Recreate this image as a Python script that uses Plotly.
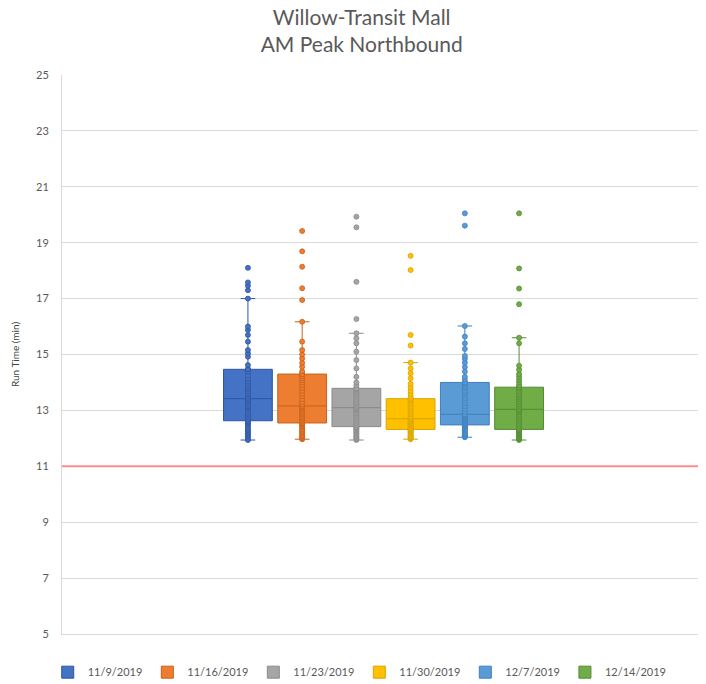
import plotly.graph_objects as go

# run times (min) per sample day
dates = ["11/9/2019", "11/16/2019", "11/23/2019", "11/30/2019", "12/7/2019", "12/14/2019"]

run_1109 = [11.94, 11.98, 12.05, 12.1, 12.15, 12.2, 12.25, 12.3, 12.35, 12.42, 12.48, 12.53, 12.58,
            12.63, 12.63, 12.63,
            12.7, 12.78, 12.85, 12.9, 12.98, 13.05, 13.1, 13.15, 13.2, 13.27, 13.33, 13.38,
            13.42,
            13.48, 13.55, 13.6, 13.68, 13.75, 13.82, 13.9, 13.98, 14.05, 14.15, 14.25, 14.38,
            14.47, 14.47, 14.47,
            14.62, 14.92, 15.04, 15.16, 15.46, 15.7, 15.88, 16.0, 17.0, 17.3, 17.46, 17.58, 18.1]

run_1116 = [11.97, 12.0, 12.03, 12.08, 12.12, 12.18, 12.22, 12.27, 12.32, 12.38, 12.42, 12.47, 12.51,
            12.55, 12.55, 12.55,
            12.6, 12.65, 12.7, 12.75, 12.8, 12.85, 12.9, 12.95, 13.0, 13.05, 13.1, 13.13,
            13.16,
            13.22, 13.3, 13.4, 13.5, 13.6, 13.7, 13.8, 13.9, 14.0, 14.08, 14.15, 14.22,
            14.3, 14.3, 14.3,
            14.4, 14.56, 14.7, 14.86, 15.0, 15.16, 15.46, 16.17, 16.95, 17.37, 18.14, 18.69, 19.42]

run_1123 = [11.94, 11.97, 12.0, 12.04, 12.08, 12.12, 12.16, 12.2, 12.24, 12.28, 12.32, 12.36, 12.39,
            12.42, 12.42, 12.42,
            12.48, 12.54, 12.6, 12.66, 12.72, 12.78, 12.84, 12.9, 12.95, 13.0, 13.04, 13.07,
            13.1,
            13.15, 13.2, 13.25, 13.3, 13.36, 13.42, 13.48, 13.54, 13.6, 13.66, 13.71, 13.75,
            13.79, 13.79, 13.79,
            13.9, 14.0, 14.2, 14.5, 14.8, 15.1, 15.4, 15.58, 15.76, 16.27, 17.6, 19.55, 19.93]

run_1130 = [11.97, 11.99, 12.01, 12.04, 12.07, 12.1, 12.13, 12.16, 12.19, 12.22, 12.25, 12.28, 12.3,
            12.32, 12.32, 12.32,
            12.35, 12.38, 12.41, 12.44, 12.47, 12.5, 12.53, 12.56, 12.59, 12.62, 12.65, 12.68,
            12.7,
            12.75, 12.8, 12.86, 12.92, 12.98, 13.04, 13.1, 13.16, 13.22, 13.28, 13.34, 13.38,
            13.42, 13.42, 13.42,
            13.5, 13.6, 13.7, 13.83, 13.95, 14.15, 14.33, 14.5, 14.71, 15.32, 15.7, 18.02, 18.53]

run_1207 = [12.04, 12.07, 12.1, 12.13, 12.17, 12.2, 12.24, 12.28, 12.32, 12.36, 12.4, 12.43, 12.46,
            12.48, 12.48, 12.48,
            12.51, 12.54, 12.57, 12.6, 12.63, 12.66, 12.69, 12.72, 12.75, 12.78, 12.81, 12.84,
            12.86,
            12.95, 13.05, 13.15, 13.25, 13.35, 13.45, 13.55, 13.62, 13.7, 13.8, 13.88, 13.95,
            14.0, 14.0, 14.0,
            14.1, 14.2, 14.39, 14.55, 14.71, 14.85, 14.95, 15.2, 15.4, 15.64, 16.02, 19.61, 20.05]

run_1214 = [11.94, 11.97, 12.0, 12.03, 12.06, 12.09, 12.12, 12.15, 12.18, 12.21, 12.24, 12.27, 12.3,
            12.32, 12.32, 12.32,
            12.38, 12.44, 12.5, 12.56, 12.62, 12.68, 12.74, 12.8, 12.86, 12.92, 12.97, 13.0,
            13.04,
            13.1, 13.16, 13.22, 13.28, 13.34, 13.4, 13.46, 13.52, 13.58, 13.64, 13.7, 13.77,
            13.83, 13.83, 13.83,
            13.9, 14.0, 14.09, 14.2, 14.3, 14.45, 14.6, 15.4, 15.6, 16.8, 17.36, 18.08, 20.05]

target_time = 11

all_runs = [run_1109, run_1116, run_1123, run_1130, run_1207, run_1214]
colors = ["#4472C4", "#ED7D31", "#A5A5A5", "#FFC000", "#5B9BD5", "#70AD47"]
edges = ["#2F55A0", "#C8601A", "#8A8A8A", "#D9A300", "#3F7FBF", "#548A33"]

fig = go.Figure()
for d, runs, c, e in zip(dates, all_runs, colors, edges):
    fig.add_trace(go.Box(
        y=runs,
        x=["AM"] * len(runs),
        name=d,
        boxpoints="all",
        jitter=0,
        pointpos=0,
        fillcolor=c,
        line=dict(color=e, width=1),
        whiskerwidth=0.3,
        marker=dict(color=c, size=5, line=dict(color=e, width=0.8)),
    ))

# target run time line
fig.add_shape(type="line", xref="paper", x0=0, x1=1, yref="y", y0=target_time, y1=target_time,
              line=dict(color="#FF8C8C", width=2))

fig.update_layout(
    width=706, height=684,
    paper_bgcolor="white", plot_bgcolor="white",
    font=dict(family="Lato, Noto Sans, sans-serif", color="#595959"),
    title=dict(text="Willow-Transit Mall<br>AM Peak Northbound", x=0.501, xanchor="center",
               y=0.975, yanchor="top", pad=dict(t=0),
               font=dict(size=21, color="#595959")),
    boxmode="group", boxgap=0.49, boxgroupgap=0.1,
    margin=dict(l=54, r=9, t=67, b=58, autoexpand=False),
    showlegend=True,
    legend=dict(orientation="h", x=0.463, xanchor="center", yref="container", y=0.029,
                yanchor="middle", font=dict(size=11, color="#595959"), itemwidth=30),
)
fig.update_xaxes(showticklabels=False, showgrid=False, zeroline=False,
                 showline=True, linecolor="#D9D9D9", mirror=False)
fig.update_yaxes(range=[5, 25], dtick=2, tick0=5, showgrid=True, gridcolor="#D9D9D9",
                 zeroline=False, showline=True, linecolor="#D9D9D9",
                 ticklabelstandoff=10,
                 tickfont=dict(size=11, color="#595959"),
                 title=dict(text="Run Time (min)", font=dict(size=10, color="#404040"), standoff=14))

fig.write_html("out.html")
